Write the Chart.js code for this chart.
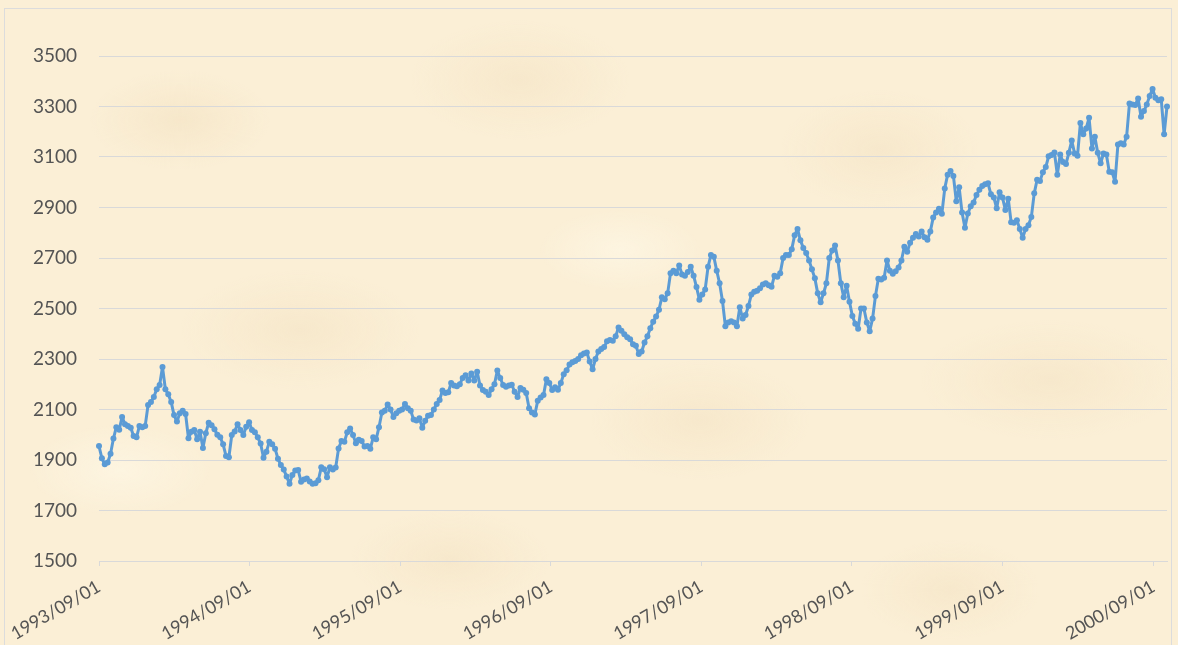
<!DOCTYPE html>
<html>
<head>
<meta charset="utf-8">
<title>Cours hebdomadaire</title>
<script src="https://cdn.jsdelivr.net/npm/chart.js@4/dist/chart.umd.min.js"></script>
<style>
    html, body { margin: 0; padding: 0; width: 1178px; height: 645px; overflow: hidden; }
    body {
        background-color: #fbefd6;
        background-image:
            radial-gradient(ellipse 90px 50px at 180px 120px, rgba(240, 220, 185, 0.40), transparent),
            radial-gradient(ellipse 110px 60px at 520px 80px, rgba(240, 220, 185, 0.35), transparent),
            radial-gradient(ellipse 100px 60px at 880px 150px, rgba(240, 220, 185, 0.35), transparent),
            radial-gradient(ellipse 120px 60px at 300px 330px, rgba(240, 220, 185, 0.35), transparent),
            radial-gradient(ellipse 110px 60px at 700px 420px, rgba(240, 220, 185, 0.35), transparent),
            radial-gradient(ellipse 130px 60px at 1050px 380px, rgba(240, 220, 185, 0.35), transparent),
            radial-gradient(ellipse 100px 50px at 450px 560px, rgba(240, 220, 185, 0.35), transparent),
            radial-gradient(ellipse 90px 50px at 950px 590px, rgba(240, 220, 185, 0.35), transparent),
            radial-gradient(ellipse 80px 40px at 620px 250px, rgba(255, 250, 235, 0.50), transparent),
            radial-gradient(ellipse 90px 45px at 120px 470px, rgba(255, 250, 235, 0.50), transparent);
    }
    #cadre { position: absolute; left: 4px; top: 8px; width: 1166px; height: 640px;
             border: 1px solid #dcdcdc; border-bottom: none; }
    #graph { position: absolute; left: 0; top: 0; }
</style>
</head>
<body>
<div id="cadre"></div>
<canvas id="graph" width="1178" height="645"></canvas>
<script>
// premier jour de la série, une valeur par semaine ensuite
let startDate = '1993/09/01';

// clôtures hebdomadaires
let weeklyValues = [
    1955, 1907, 1883, 1890, 1925, 1985, 2030, 2020, 2070, 2042, 2035, 2028, 1995, 1990, 2035, 2030,
    2035, 2118, 2130, 2150, 2180, 2197, 2268, 2180, 2160, 2130, 2078, 2052, 2085, 2095, 2082, 1986,
    2012, 2019, 1982, 2012, 1948, 2006, 2048, 2038, 2022, 2000, 1990, 1962, 1916, 1911, 1999,
    2013, 2042, 2019, 1999, 2032, 2050, 2019, 2010, 1990, 1965, 1909, 1933, 1972, 1962, 1945, 1905,
    1880, 1862, 1835, 1806, 1841, 1858, 1860, 1814, 1823, 1827, 1815, 1806, 1808, 1820, 1871, 1863,
    1832, 1871, 1862, 1870, 1946, 1975, 1972, 2010, 2025, 1999, 1966, 1980, 1975, 1953,
    1955, 1945, 1990, 1982, 2030, 2088, 2095, 2120, 2100, 2070, 2085, 2095, 2100, 2122, 2105, 2095,
    2060, 2056, 2065, 2028, 2055, 2075, 2078, 2100, 2122, 2138, 2175, 2165, 2168, 2205, 2195, 2192,
    2200, 2225, 2236, 2215, 2243, 2215, 2250, 2195, 2177, 2170, 2157, 2180, 2200, 2254, 2225, 2197,
    2190, 2195, 2198, 2170, 2150, 2185, 2178, 2165, 2105, 2088, 2080, 2135, 2148, 2157, 2220, 2205,
    2177, 2188, 2178, 2205, 2240, 2255, 2278, 2287, 2292, 2300, 2315, 2322, 2326, 2290, 2259, 2300,
    2330, 2340, 2348, 2370, 2375, 2372, 2390, 2425, 2412, 2398, 2386, 2378, 2358, 2352, 2320,
    2330, 2365, 2390, 2422, 2448, 2468, 2495, 2545, 2537, 2560, 2640, 2650, 2640, 2670, 2635, 2630,
    2645, 2665, 2630, 2585, 2535, 2555, 2575, 2665, 2712, 2705, 2650, 2600, 2530, 2430, 2445, 2450,
    2445, 2430, 2505, 2460, 2474, 2510, 2555, 2566, 2570, 2580, 2595, 2600, 2592, 2586, 2630,
    2626, 2640, 2700, 2712, 2712, 2735, 2790, 2815, 2770, 2740, 2720, 2690, 2655, 2620, 2560, 2525,
    2560, 2600, 2700, 2730, 2750, 2690, 2600, 2545, 2590, 2527, 2470, 2440, 2420, 2500, 2500, 2445,
    2410, 2460, 2550, 2618, 2615, 2622, 2690, 2650, 2638, 2648, 2662, 2690, 2745, 2725,
    2760, 2780, 2795, 2785, 2805, 2782, 2772, 2805, 2860, 2880, 2895, 2875, 2975, 3030, 3045, 3025,
    2925, 2980, 2880, 2820, 2876, 2905, 2920, 2950, 2970, 2985, 2992, 2996, 2952, 2940, 2897, 2960,
    2940, 2890, 2935, 2842, 2840, 2850, 2815, 2780, 2815, 2830, 2862, 2956, 3010, 3005, 3040,
    3060, 3103, 3108, 3118, 3030, 3110, 3080, 3072, 3117, 3165, 3114, 3105, 3235, 3190, 3213, 3255,
    3134, 3180, 3117, 3075, 3114, 3110, 3042, 3040, 3002, 3150, 3154, 3150, 3180, 3312, 3308, 3306,
    3332, 3259, 3282, 3308, 3342, 3369, 3335, 3325, 3329, 3190, 3300
];

// graduations de l'axe des dates
let yearTicks = ['1993/09/01', '1994/09/01', '1995/09/01', '1996/09/01',
                 '1997/09/01', '1998/09/01', '1999/09/01', '2000/09/01'];

// graduations de l'axe des valeurs
let valueMin = 1500;
let valueMax = 3500;
let valueStep = 200;

/**
 * Nombre de jours entre la date de départ et une date 'AAAA/MM/JJ'
 * @param label la date
 */
function dayOffset(label){
    let p = label.split('/');
    let s = startDate.split('/');
    return Math.round((Date.UTC(+p[0], +p[1] - 1, +p[2]) - Date.UTC(+s[0], +s[1] - 1, +s[2])) / 86400000);
}

let points = weeklyValues.map(function(v, i){
    return {x: i * 7, y: v};
});

let tickLabels = {};
yearTicks.forEach(function(label){
    tickLabels[dayOffset(label)] = label;
});

let axisColor = '#545454';
let gridColor = '#d9d9d9';

let ctx = document.getElementById('graph').getContext('2d');
let chart = new Chart(ctx, {
    type: 'line',
    data: {
        datasets: [{
            data: points,
            borderColor: '#5b9bd5',
            backgroundColor: '#5b9bd5',
            borderWidth: 3,
            borderJoinStyle: 'round',
            borderCapStyle: 'round',
            pointRadius: 3,
            pointBorderWidth: 0,
            tension: 0,
            clip: false
        }]
    },
    options: {
        responsive: false,
        animation: false,
        events: [],
        layout: {
            padding: {top: 56, right: 11, left: 0, bottom: 0}
        },
        plugins: {
            legend: {display: false},
            tooltip: {enabled: false}
        },
        scales: {
            x: {
                type: 'linear',
                min: 0,
                max: (weeklyValues.length - 1) * 7,
                afterBuildTicks: function(scale){
                    scale.ticks = yearTicks.map(function(label){
                        return {value: dayOffset(label)};
                    });
                },
                afterFit: function(scale){
                    scale.height = 84;
                },
                ticks: {
                    autoSkip: false,
                    minRotation: 30,
                    maxRotation: 30,
                    padding: 10,
                    font: {family: 'Lato', size: 18},
                    color: axisColor,
                    callback: function(value){
                        return tickLabels[value] || '';
                    }
                },
                grid: {
                    drawOnChartArea: false,
                    drawTicks: true,
                    tickLength: 5,
                    color: gridColor
                },
                border: {display: true, color: gridColor}
            },
            y: {
                min: valueMin,
                max: valueMax,
                afterFit: function(scale){
                    scale.width = 99;
                },
                ticks: {
                    stepSize: valueStep,
                    padding: 22,
                    font: {family: 'Lato', size: 19},
                    color: axisColor,
                    callback: function(value){
                        return String(value);
                    }
                },
                grid: {
                    color: gridColor,
                    drawTicks: false
                },
                border: {display: false}
            }
        }
    }
});
</script>
</body>
</html>
